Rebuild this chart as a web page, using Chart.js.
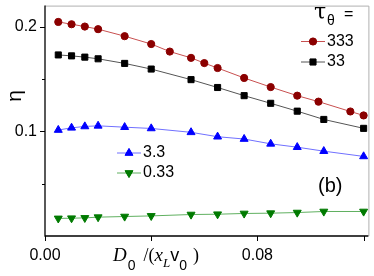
<!DOCTYPE html>
<html>
<head>
<meta charset="utf-8">
<script src="https://cdn.jsdelivr.net/npm/chart.js@4.4.1/dist/chart.umd.min.js"></script>
<style>
  body { margin: 0; background: #fff; }
  canvas { display: block; }
</style>
</head>
<body>
<canvas id="graphe" width="374" height="276"></canvas>
<script>
// valeurs
var xVals = [0.005, 0.01, 0.015, 0.02, 0.03, 0.04, 0.055, 0.065, 0.075, 0.085, 0.095, 0.105, 0.12];
var xRouge = [0.005, 0.01, 0.015, 0.02, 0.03, 0.04, 0.047, 0.055, 0.06, 0.065, 0.075, 0.085, 0.095, 0.103, 0.115, 0.12];
var eta333 = [0.2044, 0.2022, 0.2000, 0.1975, 0.1908, 0.1833, 0.1761, 0.1701, 0.1651, 0.1604, 0.1509, 0.1422, 0.1340, 0.1283, 0.1189, 0.1151];
var eta33 = [0.1729, 0.1720, 0.1708, 0.1692, 0.1648, 0.1594, 0.1493, 0.1418, 0.1340, 0.1267, 0.1192, 0.1113, 0.1028];
var eta3_3 = [0.1012, 0.1033, 0.1046, 0.1052, 0.1039, 0.1027, 0.0990, 0.0948, 0.0926, 0.0880, 0.0848, 0.0810, 0.0760];
var eta0_33 = [0.0168, 0.0170, 0.0173, 0.0180, 0.0186, 0.0192, 0.0205, 0.0208, 0.0215, 0.0218, 0.0224, 0.0234, 0.0234];
var legendes = ['333', '33', '3.3', '0.33'];
var xTicks = [0, 0.04, 0.08, 0.12];
var xLabels = ['0.00', '', '0.08', ''];
var yTicks = [0.05, 0.1, 0.15, 0.2];
var yLabels = ['', '0.1', '', '0.2'];

function points(xs, ys) {
    return ys.map(function(v, i) { return {x: xs[i], y: v}; });
}

var styles = [
    {ligne: '#c85050', point: '#8b0000', forme: 'circle', r: 3.6, rot: 0},
    {ligne: '#555555', point: '#000000', forme: 'rect', r: 4.3, rot: 0},
    {ligne: '#7070ff', point: '#0000ff', forme: 'triangle', r: 4.6, rot: 0},
    {ligne: '#60b060', point: '#007a00', forme: 'triangle', r: 4.6, rot: 180}
];
var series = [points(xRouge, eta333), points(xVals, eta33), points(xVals, eta3_3), points(xVals, eta0_33)];

var datasets = series.map(function(d, i) {
    var s = styles[i];
    return {
        label: legendes[i],
        data: d,
        showLine: true,
        borderColor: s.ligne,
        borderWidth: 1,
        pointStyle: s.forme,
        pointRadius: s.r,
        pointRotation: s.rot,
        pointBackgroundColor: s.point,
        pointBorderColor: s.point,
        pointBorderWidth: 1
    };
});

function marqueur(ctx, s, x, y) {
    ctx.strokeStyle = s.ligne;
    ctx.lineWidth = 1;
    ctx.beginPath();
    ctx.moveTo(x - 12, y);
    ctx.lineTo(x + 12, y);
    ctx.stroke();
    ctx.fillStyle = s.point;
    ctx.strokeStyle = s.point;
    Chart.helpers.drawPoint(ctx, {pointStyle: s.forme, rotation: s.rot, radius: s.r, borderWidth: 1}, x, y);
    ctx.fill();
}

var habillage = {
    id: 'habillage',
    afterDraw: function(chart) {
        var ctx = chart.ctx;
        var a = chart.chartArea;
        var sx = chart.scales.x, sy = chart.scales.y;
        ctx.save();
        // cadre
        ctx.strokeStyle = '#b0b0b0';
        ctx.lineWidth = 1;
        ctx.beginPath();
        ctx.moveTo(a.left, a.top + 0.5);
        ctx.lineTo(a.right + 0.5, a.top + 0.5);
        ctx.lineTo(a.right + 0.5, a.bottom);
        ctx.stroke();
        ctx.strokeStyle = '#000';
        ctx.lineWidth = 1.3;
        ctx.beginPath();
        ctx.moveTo(a.left, a.top);
        ctx.lineTo(a.left, a.bottom);
        ctx.lineTo(a.right, a.bottom);
        ctx.stroke();
        // graduations
        ctx.lineWidth = 1;
        xTicks.forEach(function(v) {
            var px = Math.round(sx.getPixelForValue(v)) + 0.5;
            ctx.beginPath();
            ctx.moveTo(px, a.bottom);
            ctx.lineTo(px, a.bottom + 5);
            ctx.stroke();
        });
        yTicks.forEach(function(v, i) {
            var py = Math.round(sy.getPixelForValue(v)) + 0.5;
            var l = yLabels[i] ? 5 : 3;
            ctx.beginPath();
            ctx.moveTo(a.left - l, py);
            ctx.lineTo(a.left, py);
            ctx.stroke();
        });
        // titre axe y
        ctx.fillStyle = '#000';
        ctx.save();
        ctx.translate(15, 96);
        ctx.rotate(-Math.PI / 2);
        ctx.font = '21px "Liberation Sans"';
        ctx.textAlign = 'center';
        ctx.textBaseline = 'middle';
        ctx.fillText('η', 0, 0);
        ctx.restore();
        // titre axe x : D0 /(xL v0)
        ctx.textAlign = 'left';
        ctx.textBaseline = 'alphabetic';
        var morceaux = [
            ['D', 'italic 19px "Liberation Serif"', 0, 0],
            ['0', '14px "Liberation Sans"', 1, 9],
            ['/(', '18px "Liberation Serif"', 8, 0],
            ['x', 'italic 19px "Liberation Serif"', 0, 0],
            ['L', 'italic 13px "Liberation Serif"', 0, 6],
            ['v', '18px "Liberation Sans"', 0, 0],
            ['0', '14px "Liberation Sans"', 0, 9],
            [')', '18px "Liberation Serif"', 6, 0]
        ];
        var cx = 113;
        morceaux.forEach(function(m) {
            ctx.font = m[1];
            cx += m[2];
            ctx.fillText(m[0], cx, 261 + m[3]);
            cx += ctx.measureText(m[0]).width;
        });
        // légende
        ctx.font = '22px "DejaVu Serif"';
        ctx.fillText('τ', 314, 19);
        ctx.font = '14px "Liberation Sans"';
        ctx.fillText('θ', 327, 25);
        ctx.font = '16px "Liberation Sans"';
        ctx.fillText('=', 344, 19);
        var pos = [[313, 41.5], [313, 62], [129, 153], [129, 173]];
        pos.forEach(function(p, i) {
            marqueur(ctx, styles[i], p[0], p[1]);
            ctx.fillStyle = '#000';
            ctx.font = '16px "Liberation Sans"';
            ctx.textBaseline = 'middle';
            ctx.fillText(legendes[i], p[0] + 14, p[1]);
        });
        ctx.font = '20px "Liberation Sans"';
        ctx.fillText('(b)', 318, 186);
        ctx.restore();
    }
};

var graphe = new Chart(document.getElementById('graphe').getContext('2d'), {
    type: 'scatter',
    data: {datasets: datasets},
    options: {
        responsive: false,
        animation: false,
        layout: {padding: {top: 3, right: 2, left: 0, bottom: 0}},
        plugins: {legend: {display: false}, tooltip: {enabled: false}},
        scales: {
            x: {
                type: 'linear', min: 0, max: 0.1218,
                border: {display: false},
                grid: {display: false, drawTicks: false},
                afterBuildTicks: function(s) { s.ticks = xTicks.map(function(v) { return {value: v}; }); },
                afterFit: function(s) { s.height = 40; s.paddingLeft = 0; s.paddingRight = 0; },
                ticks: {
                    padding: 10, color: '#000', maxRotation: 0, autoSkip: false,
                    font: {family: '"Liberation Sans"', size: 16},
                    callback: function(v) { var i = xTicks.indexOf(v); return i >= 0 ? xLabels[i] : ''; }
                }
            },
            y: {
                type: 'linear', min: 0, max: 0.22,
                border: {display: false},
                grid: {display: false, drawTicks: false},
                afterBuildTicks: function(s) { s.ticks = yTicks.map(function(v) { return {value: v}; }); },
                afterFit: function(s) { s.width = 45; s.paddingTop = 0; s.paddingBottom = 0; },
                ticks: {
                    padding: 8, color: '#000', autoSkip: false,
                    font: {family: '"Liberation Sans"', size: 16},
                    callback: function(v) { var i = yTicks.indexOf(v); return i >= 0 ? yLabels[i] : ''; }
                }
            }
        }
    },
    plugins: [habillage]
});
</script>
</body>
</html>
